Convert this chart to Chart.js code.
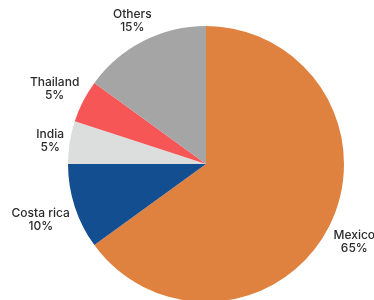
<!DOCTYPE html>
<html>
<head>
<meta charset="utf-8">
<script src="https://cdn.jsdelivr.net/npm/chart.js"></script>
<style>
  html, body { margin: 0; padding: 0; background: #fff; overflow: hidden; }
  #wrap { position: relative; width: 374px; height: 310px; }
</style>
</head>
<body>
<div id="wrap"><canvas id="chart"></canvas></div>
<script>
// data
const countries = ['Mexico', 'Costa rica', 'India', 'Thailand', 'Others'];
const shares = [65, 10, 5, 5, 15];
const sliceColors = ['#E0823F', '#134E90', '#DCDEDE', '#F65656', '#A5A5A5'];

// draws "name / pct%" outside each slice, centred on the slice's mid-angle
const outsideLabels = {
    id: 'outsideLabels',
    afterDatasetsDraw(chart) {
        const ctx = chart.ctx;
        const meta = chart.getDatasetMeta(0);
        ctx.save();
        ctx.font = '500 12px Inter, "Open Sans", sans-serif';
        ctx.fillStyle = '#2a2a2a';
        ctx.textAlign = 'center';
        ctx.textBaseline = 'middle';
        meta.data.forEach((arc, i) => {
            const mid = (arc.startAngle + arc.endAngle) / 2;
            const lines = [countries[i], shares[i] + '%'];
            const w = Math.max(...lines.map(t => ctx.measureText(t).width));
            const h = 26;
            const cos = Math.cos(mid), sin = Math.sin(mid);
            const dist = arc.outerRadius + 4 + (w / 2) * Math.abs(cos) + (h / 2) * Math.abs(sin);
            const x = arc.x + cos * dist;
            const y = arc.y + sin * dist + 2;
            ctx.fillText(lines[0], x, y - 6.5);
            ctx.fillText(lines[1], x, y + 6.5);
        });
        ctx.restore();
    }
};

new Chart(document.getElementById('chart').getContext('2d'), {
    type: 'pie',
    data: {
        labels: countries,
        datasets: [{
            data: shares,
            backgroundColor: sliceColors,
            borderWidth: 0
        }]
    },
    options: {
        responsive: true,
        maintainAspectRatio: false,
        animation: false,
        layout: { padding: { left: 68, right: 30, top: 26, bottom: 8 } },
        plugins: {
            legend: { display: false },
            tooltip: { enabled: false }
        }
    },
    plugins: [outsideLabels]
});
</script>
</body>
</html>
